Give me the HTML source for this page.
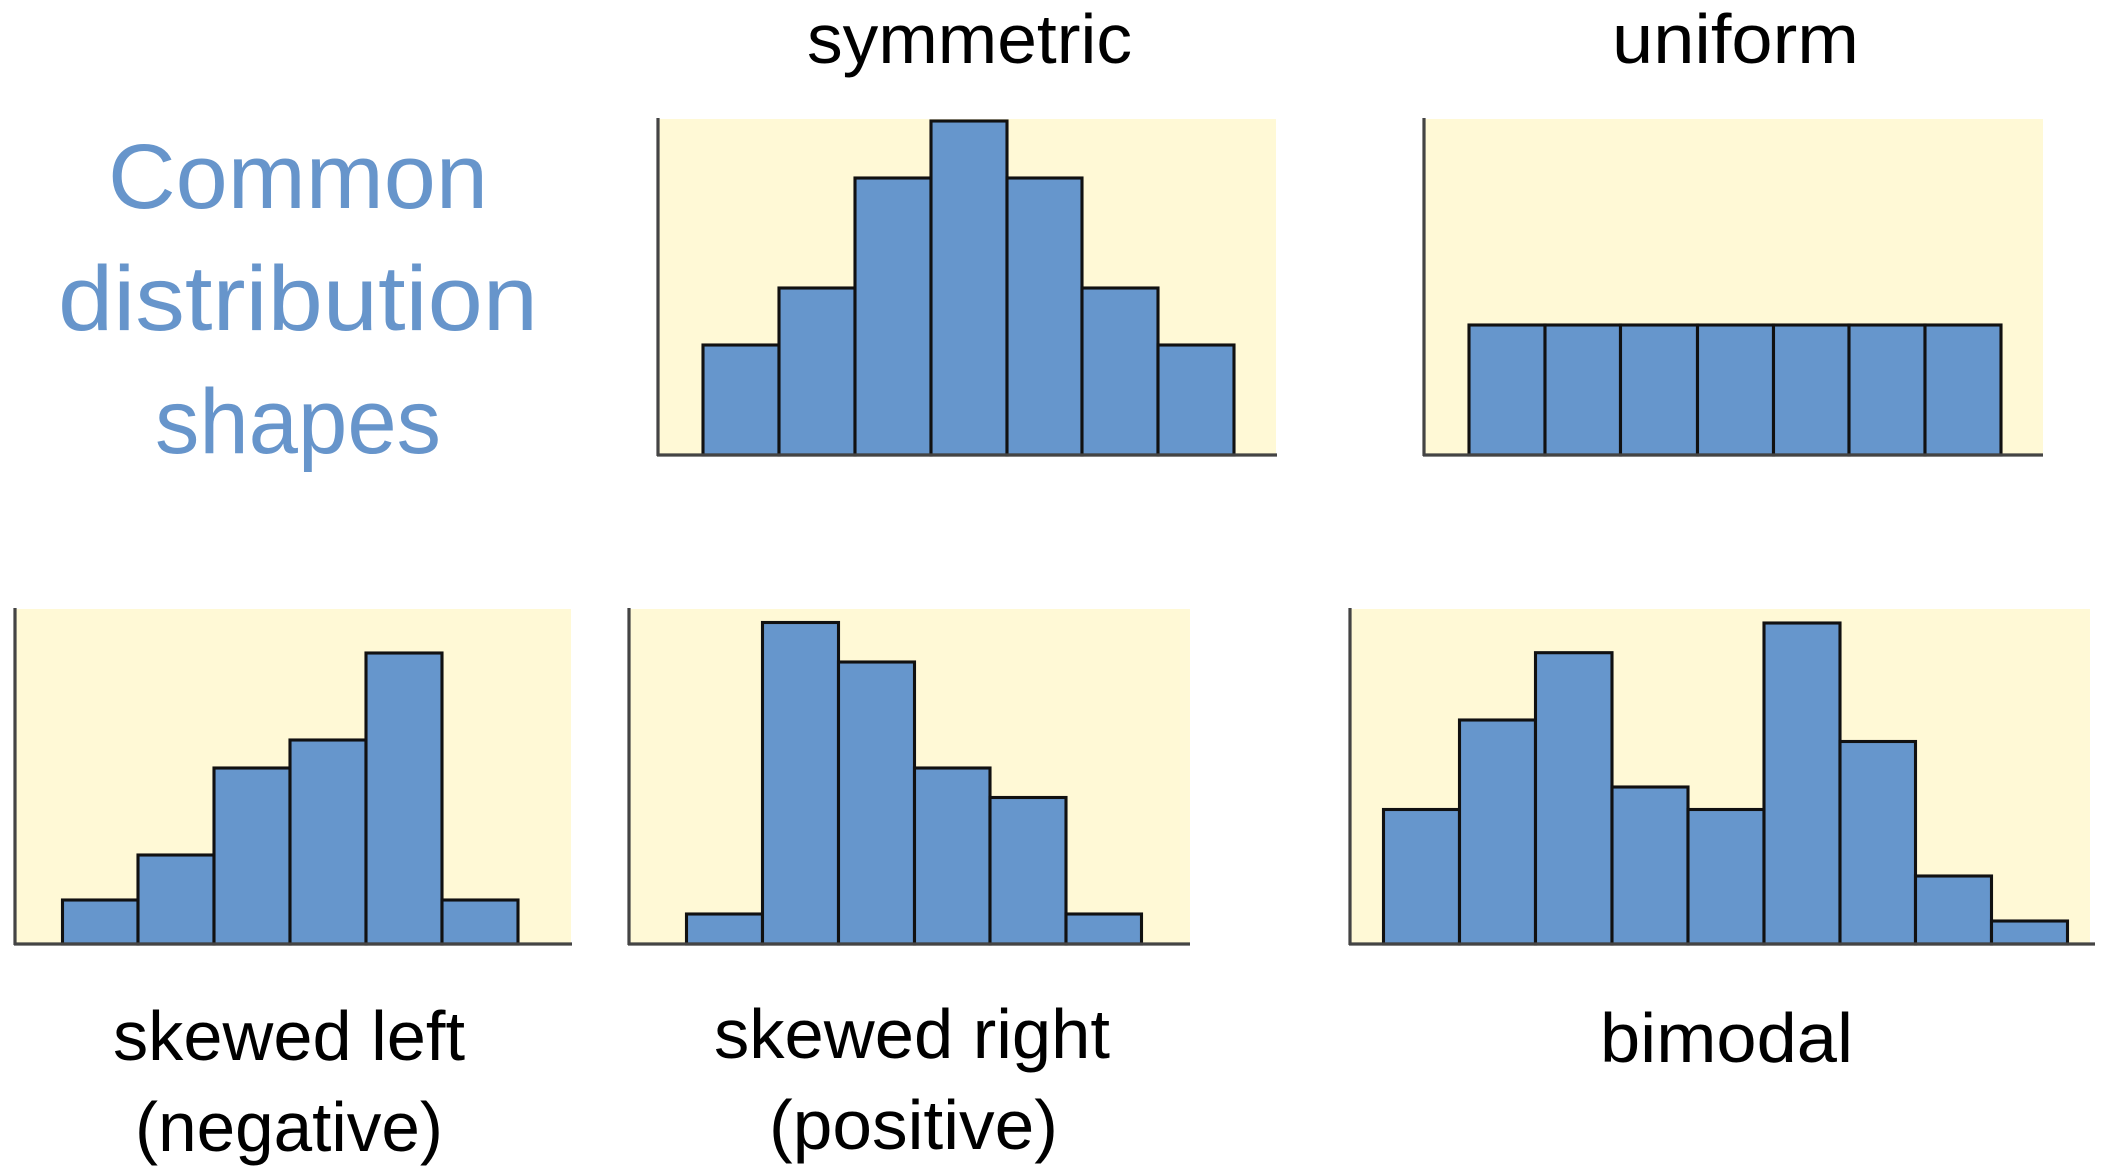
<!DOCTYPE html>
<html>
<head>
<meta charset="utf-8">
<style>
  html, body { margin:0; padding:0; background:#ffffff; }
  body { width:2106px; height:1176px; overflow:hidden; }
  svg { display:block; }
  .lbl { font-family:"Liberation Sans", Arial, sans-serif; fill:#000; font-size:70px; }
  .ttl { font-family:"Liberation Sans", Arial, sans-serif; fill:#6795CB; font-size:92px; }
  .bar { fill:#6696CC; stroke:#111; stroke-width:3.1; }
  .bg { fill:#FFF9D6; }
  .ax { stroke:#444; stroke-width:3.2; fill:none; }
</style>
</head>
<body>
<svg width="2106" height="1176" viewBox="0 0 2106 1176" xmlns="http://www.w3.org/2000/svg">

  <!-- Title -->
  <text class="ttl" x="108" y="208" textLength="380" lengthAdjust="spacingAndGlyphs">Common</text>
  <text class="ttl" x="58" y="330" textLength="480" lengthAdjust="spacingAndGlyphs">distribution</text>
  <text class="ttl" x="155" y="453" textLength="286" lengthAdjust="spacingAndGlyphs">shapes</text>

  <!-- Top labels -->
  <text class="lbl" x="807" y="63" textLength="325" lengthAdjust="spacingAndGlyphs">symmetric</text>
  <text class="lbl" x="1612" y="63" textLength="247" lengthAdjust="spacingAndGlyphs">uniform</text>

  <!-- Bottom labels -->
  <text class="lbl" x="113" y="1060" textLength="352" lengthAdjust="spacingAndGlyphs">skewed left</text>
  <text class="lbl" x="135" y="1151" textLength="308" lengthAdjust="spacingAndGlyphs">(negative)</text>
  <text class="lbl" x="714" y="1058" textLength="396" lengthAdjust="spacingAndGlyphs">skewed right</text>
  <text class="lbl" x="769" y="1149" textLength="289" lengthAdjust="spacingAndGlyphs">(positive)</text>
  <text class="lbl" x="1600" y="1062" textLength="253" lengthAdjust="spacingAndGlyphs">bimodal</text>

  <!-- Symmetric -->
  <rect class="bg" x="658" y="119" width="618" height="336"/>
  <rect class="bar" x="703" y="345" width="76" height="110"/>
  <rect class="bar" x="779" y="288" width="76" height="167"/>
  <rect class="bar" x="855" y="178" width="76" height="277"/>
  <rect class="bar" x="931" y="121" width="76" height="334"/>
  <rect class="bar" x="1007" y="178" width="75" height="277"/>
  <rect class="bar" x="1082" y="288" width="76" height="167"/>
  <rect class="bar" x="1158" y="345" width="76" height="110"/>
  <line class="ax" x1="658" y1="118" x2="658" y2="456"/>
  <line class="ax" x1="657" y1="455" x2="1277" y2="455"/>

  <!-- Uniform -->
  <rect class="bg" x="1424" y="119" width="619" height="336"/>
  <rect class="bar" x="1469" y="325" width="76" height="130"/>
  <rect class="bar" x="1545" y="325" width="75.5" height="130"/>
  <rect class="bar" x="1620.5" y="325" width="77" height="130"/>
  <rect class="bar" x="1697.5" y="325" width="76" height="130"/>
  <rect class="bar" x="1773.5" y="325" width="75.5" height="130"/>
  <rect class="bar" x="1849" y="325" width="76" height="130"/>
  <rect class="bar" x="1925" y="325" width="76" height="130"/>
  <line class="ax" x1="1424" y1="118" x2="1424" y2="456"/>
  <line class="ax" x1="1423" y1="455" x2="2043" y2="455"/>

  <!-- Skewed left -->
  <rect class="bg" x="15" y="609" width="556" height="335"/>
  <rect class="bar" x="62.5" y="900" width="75.5" height="44"/>
  <rect class="bar" x="138" y="855" width="76" height="89"/>
  <rect class="bar" x="214" y="768" width="76" height="176"/>
  <rect class="bar" x="290" y="740" width="76" height="204"/>
  <rect class="bar" x="366" y="653" width="76" height="291"/>
  <rect class="bar" x="442" y="900" width="76" height="44"/>
  <line class="ax" x1="15" y1="608" x2="15" y2="945"/>
  <line class="ax" x1="14" y1="944" x2="572" y2="944"/>

  <!-- Skewed right -->
  <rect class="bg" x="629" y="609" width="561" height="335"/>
  <rect class="bar" x="686.5" y="914" width="76" height="30"/>
  <rect class="bar" x="762.5" y="622.5" width="76" height="321.5"/>
  <rect class="bar" x="838.5" y="662" width="76" height="282"/>
  <rect class="bar" x="914.5" y="768" width="75.5" height="176"/>
  <rect class="bar" x="990" y="797.5" width="76" height="146.5"/>
  <rect class="bar" x="1066" y="914" width="75.5" height="30"/>
  <line class="ax" x1="629" y1="608" x2="629" y2="945"/>
  <line class="ax" x1="628" y1="944" x2="1190" y2="944"/>

  <!-- Bimodal -->
  <rect class="bg" x="1350" y="609" width="740" height="335"/>
  <rect class="bar" x="1383.5" y="809.5" width="76" height="134.5"/>
  <rect class="bar" x="1459.5" y="720" width="76" height="224"/>
  <rect class="bar" x="1535.5" y="652.7" width="76.5" height="291.3"/>
  <rect class="bar" x="1612" y="787" width="76" height="157"/>
  <rect class="bar" x="1688" y="809.5" width="76" height="134.5"/>
  <rect class="bar" x="1764" y="623" width="76" height="321"/>
  <rect class="bar" x="1840" y="741.5" width="75.5" height="202.5"/>
  <rect class="bar" x="1915.5" y="876" width="76" height="68"/>
  <rect class="bar" x="1991.5" y="921" width="76" height="23"/>
  <line class="ax" x1="1350" y1="608" x2="1350" y2="945"/>
  <line class="ax" x1="1349" y1="944" x2="2095" y2="944"/>

</svg>
</body>
</html>
